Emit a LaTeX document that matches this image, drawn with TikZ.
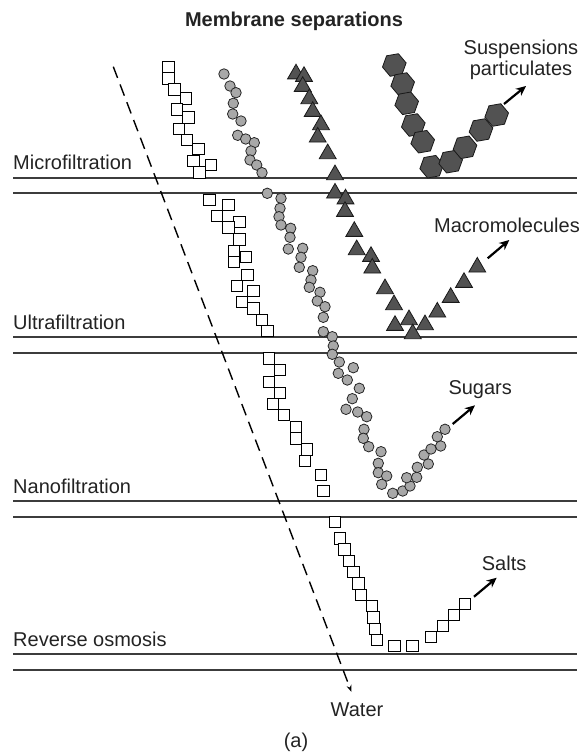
\documentclass[tikz,border=0pt]{standalone}
\usepackage{fontspec}
\setmainfont{Liberation Sans}
\usetikzlibrary{shapes.geometric,arrows.meta}

\definecolor{circgray}{RGB}{168,168,168}
\definecolor{darkmark}{RGB}{82,82,82}
\definecolor{linegray}{RGB}{60,60,60}
\definecolor{textgray}{RGB}{35,35,35}

\begin{document}
\begin{tikzpicture}[x=1pt,y=-1pt,
  sqmark/.style={rectangle, draw=black, fill=white, line width=0.9pt, minimum size=11.5pt, inner sep=0pt},
  circmark/.style={circle, draw=black!85, fill=circgray, line width=0.8pt, minimum size=10.5pt, inner sep=0pt},
  trimark/.style={regular polygon, regular polygon sides=3, draw=black!90, fill=darkmark, line width=0.8pt, minimum size=19.5pt, inner sep=0pt},
  hexmark/.style={regular polygon, regular polygon sides=6, draw=black!90, fill=darkmark, line width=0.8pt, minimum size=24pt, inner sep=0pt, shape border rotate=10},
  level/.style={linegray, line width=1.1pt},
  lbl/.style={text=textgray, font=\fontsize{20}{22}\selectfont, inner sep=0pt},
  outarrow/.style={line width=2.2pt, -{Stealth[length=10pt,width=9pt]}}]
\useasboundingbox (0,0) rectangle (580,753);

% membrane levels
\foreach \y in {178,193,337,353,501,517,654,670}
  \draw[level] (13,\y) -- (577,\y);

\node[lbl, font=\fontsize{20}{22}\selectfont\bfseries, anchor=base] (title) at (294,26) {Membrane separations};
\node[lbl, anchor=base west] (micro) at (13,169) {Microfiltration};
\node[lbl, anchor=base west] (ultra) at (13,329) {Ultrafiltration};
\node[lbl, anchor=base west] (nano) at (13,493) {Nanofiltration};
\node[lbl, anchor=base west] (ro) at (13,646) {Reverse osmosis};

% water passes everything
\coordinate (watertop) at (113.3,66.7);
\coordinate (waterend) at (351.5,692);
\draw[line width=1.4pt, dash pattern=on 12pt off 7pt, -{Stealth[length=7pt,width=5pt]}] (watertop) -- (waterend);
\node[lbl, anchor=base] (water) at (357,716.7) {Water};

% salts
\foreach \x/\y [count=\i] in {168.3/67.3, 168.3/78.5, 174.3/89.3, 185.7/98.3, 176.7/109.3, 188.3/117.3,
  179/128.7, 186.7/140, 198.3/149, 193.3/160.7, 210.7/165, 199.3/172.3,
  209.3/200, 228.3/205, 216.7/216, 239.3/221.7, 228.3/227.3, 239.3/239.3, 234/251, 245.7/256.7,
  234/262, 247.3/275, 236.7/286, 253.3/290.7, 241.7/302, 253.3/308.3, 262/320, 267.3/331,
  269/358.3, 280/370, 269/381.7, 280/392.7, 272.7/404, 284/415, 295.7/426.7, 295.7/438.3,
  306.7/449.3, 305/461, 320.7/475, 323.3/490.7,
  335/522, 340/538.3, 344.3/549.3, 349/560.7, 353.3/572, 358.3/583.3, 360.7/595, 371.7/606,
  373.3/617.3, 375/628.7, 376.7/640, 394.3/645.7, 412.3/645.7, 431/636.7, 442.7/626, 454/615, 465/604}
  \node[sqmark] (sq\i) at (\x,\y) {};
\coordinate (saltout) at (474,596.7);
\coordinate (saltend) at (496.7,577.7);
\draw[outarrow] (saltout) -- (saltend);
\node[lbl, anchor=base west] (salts) at (481.7,570.7) {Salts};

% sugars
\foreach \x/\y [count=\i] in {224/74, 230/86, 236/92.7, 233.3/103.3, 232.7/114, 241/121, 237.7/135.3,
  245.7/139, 254.3/142.7, 251/151, 250/160, 256.7/165, 262/172.7,
  267.3/193.3, 281/198.3, 280/208.3, 279/216.7, 281/225, 290.7/228.3, 290/237.3, 288.3/249,
  302.7/248.3, 301/257.3, 299.3/267.3, 312.7/270.7, 311/280, 309.3/287.3, 320/292.3, 317.3/301,
  325/306.7, 323.3/317.3, 323.3/331.7, 332.3/336.7,
  333.3/346, 332.3/354.3, 339.3/362, 353.3/367.7, 338.3/373.3, 347.3/380, 359.3/388.3, 352.3/398.7,
  346/409.3, 357.7/412, 366.7/416.7, 364/429.3, 363.3/438.3, 368.7/446.7, 381/451.7, 378.3/463.3,
  378.3/472.7, 386.7/476, 381.7/484.3, 392.7/493.3, 402.7/491, 410/486, 406.7/477.7, 416.7/477.3,
  417.3/467.3, 428.3/464, 424/455, 431/449, 440.7/446, 437.3/436.7, 445/429.3}
  \node[circmark] (ci\i) at (\x,\y) {};
\coordinate (sugarout) at (452.7,424);
\coordinate (sugarend) at (475,405.3);
\draw[outarrow] (sugarout) -- (sugarend);
\node[lbl, anchor=base west] (sugars) at (448.3,394) {Sugars};

% macromolecules
\foreach \x/\y [count=\i] in {296/74, 304/76.5, 302.7/86.5, 309.3/98.8, 312.7/111.5, 321/124.8, 317.7/137.2,
  327.7/153.8, 335/174.8, 335/193.2, 345.5/199, 345/211.5, 354.3/231.5, 356.7/249.8, 371/256.5,
  372.3/268.2, 385/288.8, 394/304.8, 409/319.8, 395/325.5, 425/324.8, 412.7/333.8,
  437.3/312.2, 450.7/297.5, 464/282.5, 477.3/267.2}
  \node[trimark] (tr\i) at (\x,\y) {};
\coordinate (macroout) at (487.7,258.3);
\coordinate (macroend) at (509.3,240);
\draw[outarrow] (macroout) -- (macroend);
\node[lbl, anchor=base west] (macro) at (434,232) {Macromolecules};

% suspensions
\foreach \x/\y [count=\i] in {394.3/65, 402.7/84, 406.7/103.3, 413.3/125, 422.7/141.7, 431.7/166.7,
  450.7/161.7, 465/147.3, 481/130, 496.7/115}
  \node[hexmark] (hx\i) at (\x,\y) {};
\coordinate (suspout) at (504,104);
\coordinate (suspend) at (526,86);
\draw[outarrow] (suspout) -- (suspend);
\node[lbl, anchor=base] (susp) at (521,54) {Suspensions};
\node[lbl, anchor=base] (partic) at (521,75) {particulates};

\node[lbl, anchor=base] (caption) at (296,747) {(a)};
\end{tikzpicture}
\end{document}
